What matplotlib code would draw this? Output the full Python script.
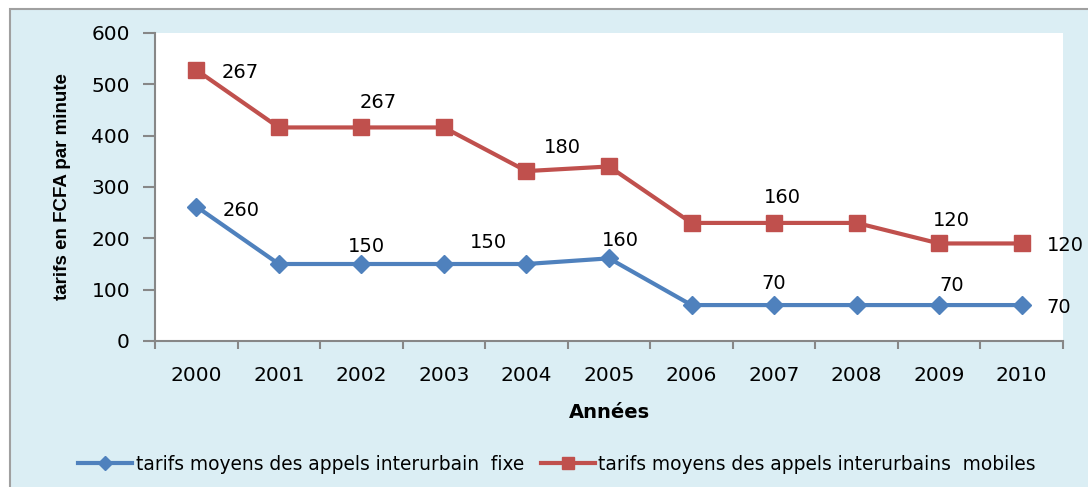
import matplotlib.pyplot as plt
from matplotlib.patches import Rectangle


years = ['2000', '2001', '2002', '2003', '2004', '2005',
         '2006', '2007', '2008', '2009', '2010']
fixe = [262, 150, 150, 150, 150, 161, 70, 70, 70, 70, 70]
mobiles = [528, 416, 416, 416, 331, 340, 230, 230, 230, 190, 190]

# data labels as they appear on the chart: (point index, text)
fixe_labels = [(0, '260'), (2, '150'), (3, '150'), (5, '160'),
               (7, '70'), (9, '70'), (10, '70')]
mobiles_labels = [(0, '267'), (2, '267'), (4, '180'), (7, '160'),
                  (9, '120'), (10, '120')]

# label offsets from their point, in pixels
fixe_offsets = [(45, -4), (5, 17), (45, 22), (11, 18), (0, 22), (13, 20), (37, -2)]
mobiles_offsets = [(44, -3), (17, 25), (36, 24), (8, 25), (12, 23), (44, -2)]

BLUE = '#4F81BD'
RED = '#C0504D'
BG = '#DBEEF4'


def main():
    fig = plt.figure(figsize=(10.88, 4.87), dpi=100, facecolor='white')
    # outer chart area with grey frame on top/left
    fig.patches.append(Rectangle((10 / 1088, -0.1), 1.2, 1.1 - 9 / 487,
                                 transform=fig.transFigure, facecolor=BG,
                                 edgecolor='#A0A0A0', linewidth=1.5, zorder=-1))

    ax = fig.add_axes([155 / 1088, 146 / 487, 908 / 1088, 308 / 487])
    ax.set_facecolor('white')

    x = list(range(len(years)))
    ax.plot(x, fixe, color=BLUE, lw=3, marker='D', ms=9,
            label='tarifs moyens des appels interurbain  fixe')
    ax.plot(x, mobiles, color=RED, lw=3, marker='s', ms=12,
            label='tarifs moyens des appels interurbains  mobiles')

    for (i, txt), (dx, dy) in zip(fixe_labels, fixe_offsets):
        ax.annotate(txt, (x[i], fixe[i]), xytext=(dx, dy), textcoords='offset pixels',
                    ha='center', va='center', fontsize=14, annotation_clip=False)
    for (i, txt), (dx, dy) in zip(mobiles_labels, mobiles_offsets):
        ax.annotate(txt, (x[i], mobiles[i]), xytext=(dx, dy), textcoords='offset pixels',
                    ha='center', va='center', fontsize=14, annotation_clip=False)

    ax.set_xlim(-0.5, len(years) - 0.5)
    ax.set_ylim(0, 600)
    ax.set_yticks(range(0, 601, 100))
    ax.set_xticks(x)
    ax.set_xticklabels(years)
    ax.set_xticks([i - 0.5 for i in range(len(years) + 1)], minor=True)
    ax.tick_params(axis='x', which='major', length=0, pad=18, labelsize=14.5)
    ax.tick_params(axis='x', which='minor', length=6, color='#878787', width=1.5)
    ax.tick_params(axis='y', length=9, color='#878787', width=1.5, pad=9, labelsize=14.5)

    for s in ['top', 'right']:
        ax.spines[s].set_visible(False)
    for s in ['left', 'bottom']:
        ax.spines[s].set_color('#878787')
        ax.spines[s].set_linewidth(1.5)

    ax.set_xlabel('Années', fontsize=14, fontweight='bold', labelpad=13)
    ax.set_ylabel('tarifs en FCFA par minute', fontsize=13.5, fontweight='bold',
                  family='Liberation Sans', labelpad=15)

    leg = fig.legend(loc='center', bbox_to_anchor=(557 / 1088, 23 / 487), ncol=2,
                     frameon=False, fontsize=13.4, handlelength=2.9, columnspacing=0.9,
                     handletextpad=0.2, markerscale=0.75)
    for line in leg.get_lines():
        line.set_linewidth(3)

    fig.savefig('out.png', dpi=100, facecolor='white')


if __name__ == '__main__':
    main()
